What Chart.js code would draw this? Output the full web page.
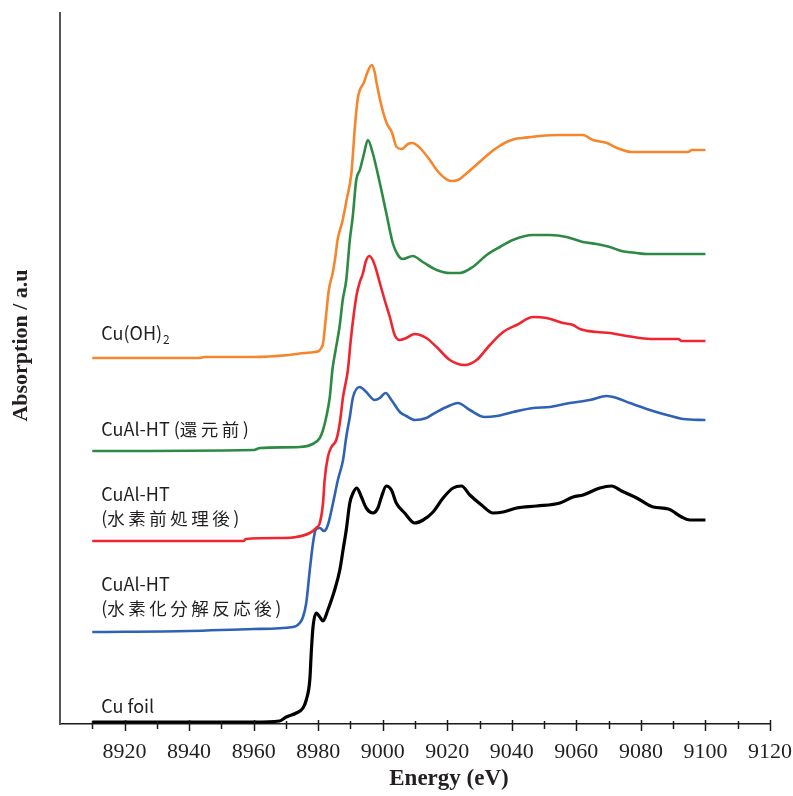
<!DOCTYPE html>
<html>
<head>
<meta charset="utf-8">
<script src="https://cdn.jsdelivr.net/npm/chart.js@4.4.1/dist/chart.umd.min.js"></script>
<style>
  body { margin: 0; background: #fff; }
  #wrap { width: 793px; height: 796px; }
</style>
</head>
<body>
<div id="wrap"><canvas id="myChart" width="793" height="796"></canvas></div>
<script>
// Cu K-edge XANES spectra, stacked (a.u.)

// Cu(OH)2
const cuOhE = [8910, 8943, 8945, 8960, 8971, 8976, 8979, 8981.4, 8982.3, 8983.3, 8984.5, 8985.4, 8986, 8987.6, 8988.8, 8990.3, 8991.3,
  8992.2, 8992.9, 8994.1, 8995.3, 8996.6, 8997.5, 8998.1, 8999.7, 9001.2, 9002.8, 9004.3, 9005.9, 9007.8, 9009.3, 9010.9, 9012.4,
  9014.6, 9016.7, 9019.2, 9021.1, 9023.3, 9025.4, 9027.9, 9030.7, 9033.2, 9035.7, 9038.4, 9040.9, 9043.4, 9048.7, 9054.3, 9062,
  9065.1, 9069.5, 9072.6, 9077.2, 9094.6, 9095.8, 9100];
const cuOhA = [3.66, 3.66, 3.67, 3.67, 3.69, 3.71, 3.72, 3.79, 4.04, 4.34, 4.51, 4.69, 4.84, 5.04, 5.24, 5.51, 5.94,
  6.24, 6.34, 6.41, 6.52, 6.59, 6.52, 6.41, 6.17, 6.01, 5.92, 5.77, 5.75, 5.80, 5.81, 5.78, 5.73,
  5.64, 5.54, 5.46, 5.43, 5.44, 5.49, 5.56, 5.64, 5.71, 5.77, 5.82, 5.85, 5.86, 5.88, 5.89, 5.89,
  5.84, 5.81, 5.76, 5.72, 5.72, 5.74, 5.74];

// CuAl-HT before reduction
const preE = [8910, 8960, 8962, 8974.3, 8978.3, 8980.5, 8981.5, 8982.5, 8983.6, 8984.4, 8985.4, 8986.7, 8987.6, 8988.7, 8989.8,
  8990.7, 8991.8, 8992.9, 8994.1, 8995.4, 8996.9, 8999.1, 9001.1, 9003.1, 9004.7, 9006.2, 9009.3, 9012.4, 9016.7, 9020.8,
  9023.9, 9027.9, 9032.2, 9036.3, 9040.3, 9046.5, 9051.8, 9057, 9062, 9066.3, 9070.4, 9074, 9078.7, 9081.8, 9100];
const preA = [2.73, 2.74, 2.76, 2.77, 2.80, 2.86, 2.94, 3.07, 3.27, 3.54, 3.74, 3.99, 4.24, 4.44, 4.84,
  5.07, 5.44, 5.54, 5.69, 5.84, 5.71, 5.41, 5.11, 4.81, 4.69, 4.65, 4.68, 4.62, 4.54, 4.51,
  4.51, 4.57, 4.69, 4.77, 4.84, 4.89, 4.89, 4.87, 4.82, 4.80, 4.77, 4.73, 4.71, 4.70, 4.70];

// CuAl-HT after H2 pretreatment
const h2E = [8910, 8957, 8957.5, 8969, 8973.2, 8977.4, 8979.4, 8980.5, 8981.5, 8982, 8983, 8984.1, 8985.6, 8986.7, 8987.7,
  8989.2, 8990.1, 8991, 8991.9, 8992.9, 8993.9, 8994.7, 8995.8, 8996.9, 8998, 8999.1, 9000.6, 9002.2, 9003.7, 9005.3,
  9007.3, 9009.9, 9013.5, 9016.7, 9020.8, 9025.4, 9029.1, 9033.2, 9037.3, 9041.5, 9046.6, 9050.8, 9055.9, 9059, 9061.1,
  9066.3, 9070.4, 9075.6, 9079.7, 9083.8, 9091.6, 9092.6, 9100];
const h2A = [1.83, 1.83, 1.85, 1.86, 1.87, 1.91, 1.96, 2.01, 2.21, 2.44, 2.67, 2.77, 2.84, 3.01, 3.27,
  3.54, 3.84, 4.09, 4.29, 4.42, 4.51, 4.62, 4.68, 4.64, 4.54, 4.41, 4.24, 4.07, 3.89, 3.84,
  3.86, 3.90, 3.86, 3.77, 3.64, 3.59, 3.64, 3.79, 3.92, 3.99, 4.07, 4.06, 4.01, 3.99, 3.95,
  3.92, 3.91, 3.88, 3.86, 3.85, 3.85, 3.83, 3.83];

// CuAl-HT after hydrogenolysis reaction
const rxnE = [8910, 8940, 8960, 8972.2, 8974.3, 8975.3, 8976.3, 8977.4, 8978.4, 8979.2, 8980.5, 8981.8, 8983, 8984.6, 8986.1,
  8987.7, 8988.7, 8989.8, 8990.8, 8992.9, 8994.9, 8997.5, 8999.1, 9000.9, 9002.7, 9005.3, 9007.3, 9009.9, 9013.5, 9015.6,
  9019.8, 9023.3, 9027, 9031.6, 9035.3, 9040.4, 9046.6, 9051.8, 9054.9, 9058, 9064.2, 9069.4, 9072.5, 9076.6, 9081.8,
  9086.9, 9093.1, 9100];
const rxnA = [0.92, 0.93, 0.95, 0.97, 1.01, 1.07, 1.21, 1.54, 1.81, 1.94, 1.96, 1.93, 1.99, 2.21, 2.44,
  2.64, 2.87, 3.07, 3.27, 3.37, 3.32, 3.24, 3.26, 3.31, 3.24, 3.12, 3.08, 3.04, 3.06, 3.10,
  3.17, 3.21, 3.14, 3.07, 3.08, 3.12, 3.16, 3.17, 3.19, 3.21, 3.24, 3.28, 3.26, 3.21, 3.15,
  3.10, 3.05, 3.04];

// Cu foil
const foilE = [8910, 8960, 8968, 8970.1, 8973.2, 8975.3, 8976.3, 8977.4, 8977.9, 8978.4, 8979.4, 8980.5, 8981.5, 8983, 8984.1,
  8985.1, 8986.7, 8987.7, 8988.7, 8989.8, 8990.8, 8992, 8993.4, 8994.9, 8997, 8998.5, 8999.6, 9001.1, 9002.7, 9004.2,
  9006.8, 9009.9, 9012.5, 9015.6, 9018.7, 9021.8, 9024.4, 9027, 9030.6, 9034.2, 9037.3, 9041.5, 9047.7, 9054.9, 9059,
  9062.1, 9067.3, 9070.9, 9074, 9078.7, 9083.8, 9088.5, 9092.6, 9095.2, 9100];
const foilA = [0.02, 0.02, 0.03, 0.07, 0.11, 0.16, 0.24, 0.44, 0.74, 0.97, 1.11, 1.07, 1.03, 1.14, 1.24,
  1.34, 1.54, 1.74, 1.94, 2.21, 2.31, 2.36, 2.27, 2.16, 2.11, 2.16, 2.27, 2.38, 2.34, 2.21,
  2.11, 2.01, 2.04, 2.12, 2.26, 2.36, 2.38, 2.29, 2.19, 2.11, 2.12, 2.16, 2.18, 2.21, 2.27,
  2.29, 2.36, 2.38, 2.33, 2.26, 2.17, 2.15, 2.07, 2.04, 2.04];

// labels written beside each curve (line breaks as in the figure, "_" = subscript)
const names = [['Cu(OH)_2'], ['CuAl-HT (還元前)'], ['CuAl-HT', '(水素前処理後)'], ['CuAl-HT', '(水素化分解反応後)'], ['Cu foil']];
const xTickStep = 10;

function pts(xs, ys) {
  return xs.map((x, i) => ({x: x, y: ys[i]}));
}

const series = [
  {data: pts(cuOhE, cuOhA), color: '#f5862c', width: 2.6, label: names[0], dy: [-18]},
  {data: pts(preE, preA), color: '#2d8a45', width: 2.6, label: names[1], dy: [-15]},
  {data: pts(h2E, h2A), color: '#ef2630', width: 2.6, label: names[2], dy: [-40, -16]},
  {data: pts(rxnE, rxnA), color: '#2f62b5', width: 2.6, label: names[3], dy: [-41, -17]},
  {data: pts(foilE, foilA), color: '#000000', width: 3.2, label: names[4], dy: [-9]}
];

const latinFont = '"Noto Sans CJK JP", "Noto Sans", sans-serif';

function drawRich(ctx, text, x, y) {
  const parts = text.split('_');
  const runs = parts[0].match(/[\u3000-\u9fff]+|[^\u3000-\u9fff]+/g);
  runs.forEach(r => {
    const cjk = /[\u3000-\u9fff]/.test(r);
    const sp = cjk ? 3.5 : 0;
    ctx.font = (cjk ? '17.5px ' : '18px ') + latinFont;
    ctx.letterSpacing = '0px';
    const w = ctx.measureText(r).width + sp * r.length;
    ctx.letterSpacing = sp + 'px';
    ctx.fillText(r, x, y);
    x += w;
  });
  ctx.letterSpacing = '0px';
  if (parts[1]) {
    ctx.font = '12px ' + latinFont;
    ctx.fillText(parts[1], x + 1, y + 4);
  }
}

const decor = {
  id: 'decor',
  afterDraw(chart) {
    const {ctx, chartArea: a, scales: {x, y}} = chart;
    ctx.save();
    // tick marks cross the energy axis
    ctx.strokeStyle = '#1a1a1a';
    ctx.lineWidth = 1.5;
    x.ticks.forEach(t => {
      if (t.value <= x.min) return;
      const px = Math.round(x.getPixelForValue(t.value)) + 0.5;
      const major = t.value % 20 === 0;
      ctx.beginPath();
      ctx.moveTo(px, a.bottom - (major ? 4 : 3));
      ctx.lineTo(px, a.bottom + (major ? 7 : 5));
      ctx.stroke();
    });

    // axis titles
    ctx.fillStyle = '#231f20';
    ctx.font = 'bold 23px "Liberation Serif", serif';
    ctx.textAlign = 'center';
    ctx.textBaseline = 'alphabetic';
    ctx.fillText('Energy (eV)', (a.left + a.right) / 2 + 34, a.bottom + 61);
    ctx.save();
    ctx.translate(21, (a.top + a.bottom) / 2 - 23);
    ctx.rotate(-Math.PI / 2);
    ctx.textBaseline = 'middle';
    ctx.font = 'bold 22px "Liberation Serif", serif';
    ctx.fillText('Absorption / a.u', 0, 0);
    ctx.restore();

    // curve names, placed just above the start of each curve
    ctx.textAlign = 'left';
    ctx.textBaseline = 'alphabetic';
    ctx.fillStyle = '#231f20';
    series.forEach(s => {
      const p0 = s.data[0];
      const lx = x.getPixelForValue(p0.x) + 9;
      const ly = y.getPixelForValue(p0.y);
      s.label.forEach((line, i) => drawRich(ctx, line, lx, ly + s.dy[i]));
    });
    ctx.restore();
  }
};

new Chart('myChart', {
  type: 'line',
  data: {
    datasets: series.map(s => ({
      data: s.data,
      borderColor: s.color,
      borderWidth: s.width,
      pointRadius: 0,
      fill: false,
      cubicInterpolationMode: 'monotone'
    }))
  },
  options: {
    responsive: false,
    animation: false,
    layout: {padding: {top: 13, right: 23, left: 0, bottom: 0}},
    plugins: {legend: {display: false}, tooltip: {enabled: false}},
    scales: {
      x: {
        type: 'linear',
        min: 8900,
        max: 9120,
        afterFit: s => { s.height = 72; s.paddingLeft = 0; s.paddingRight = 0; },
        grid: {display: false, drawTicks: false},
        border: {display: true, color: '#1a1a1a', width: 1.5},
        ticks: {
          stepSize: xTickStep,
          autoSkip: false,
          maxRotation: 0,
          padding: 15,
          color: '#231f20',
          font: {family: '"Liberation Serif", serif', size: 22},
          callback: v => (v % 20 === 0 && v > 8900) ? String(v) : ''
        }
      },
      y: {
        type: 'linear',
        min: 0,
        max: 7.11,
        afterFit: s => { s.width = 60; },
        grid: {display: false, drawTicks: false},
        border: {display: true, color: '#555555', width: 2},
        ticks: {display: false}
      }
    }
  },
  plugins: [decor]
});
</script>
</body>
</html>
